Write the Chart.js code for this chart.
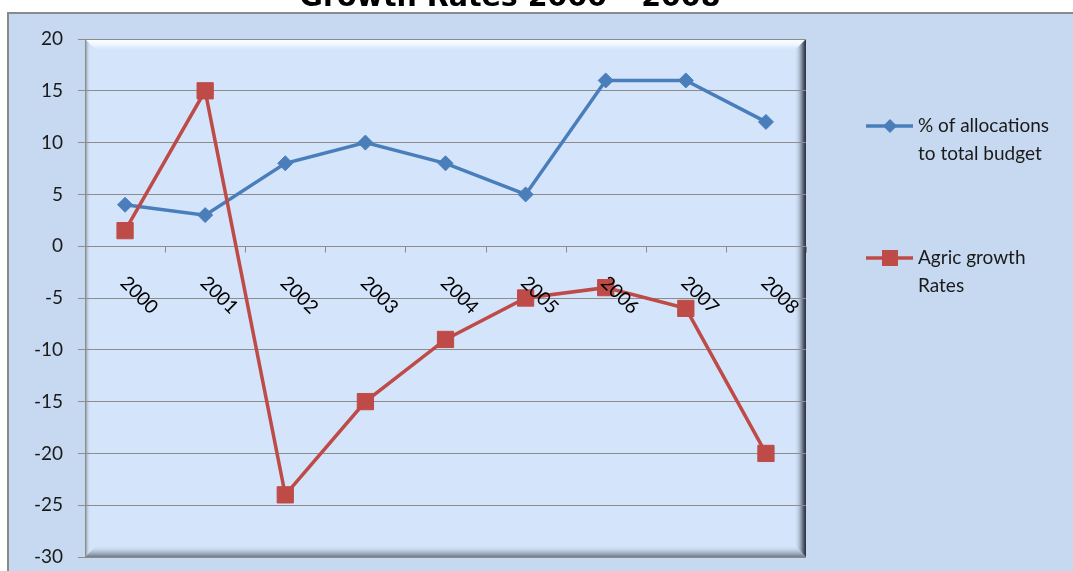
<!DOCTYPE html>
<html>
<head>
<meta charset="utf-8">
<title>Growth Rates 2000 – 2008</title>
<script src="https://cdn.jsdelivr.net/npm/chart.js@4/dist/chart.umd.min.js"></script>
<style>
  html, body { margin: 0; padding: 0; background: #fff; }
  canvas { display: block; }
</style>
</head>
<body>
<canvas id="growthChart" width="1073" height="571"></canvas>
<script>
"use strict"
// series data
const years = ["2000","2001","2002","2003","2004","2005","2006","2007","2008"];
const allocationShare = [4, 3, 8, 10, 8, 5, 16, 16, 12];        // % of allocations to total budget
const agricGrowth = [1.5, 15, -24, -15, -9, -5, -4, -6, -20];    // agric growth rates
const yMin = -30, yMax = 20, yStep = 5;

const titleText = "Growth Rates 2000 – 2008";
const legendLines = [["% of allocations", "to total budget"], ["Agric growth", "Rates"]];

const blue = "#4a7ebb";
const red = "#be4b48";
const gridGrey = "#8c8c8c";

Chart.defaults.font.family = "Lato";

// outer frame, plot fill and the bevelled edges of the plot area
const backdrop = {
  id: "backdrop",
  beforeDraw(chart) {
    const ctx = chart.ctx, a = chart.chartArea;
    const W = chart.width, H = chart.height;
    ctx.save();
    ctx.fillStyle = "#fff";
    ctx.fillRect(0, 0, W, H);
    ctx.fillStyle = "#c6d9f1";
    ctx.fillRect(8, 13, W, H);
    ctx.strokeStyle = "#8a8a8a";
    ctx.lineWidth = 2;
    ctx.beginPath();
    ctx.moveTo(8, H + 2); ctx.lineTo(8, 13); ctx.lineTo(W + 2, 13);
    ctx.stroke();

    const l = a.left, t = a.top, r = a.right, b = a.bottom, d = 12;
    ctx.fillStyle = "#d4e5fb";
    ctx.fillRect(l, t, r - l, b - t);

    function quad(pts, fill) {
      ctx.beginPath();
      ctx.moveTo(pts[0], pts[1]);
      for (let i = 2; i < pts.length; i += 2) ctx.lineTo(pts[i], pts[i + 1]);
      ctx.closePath();
      ctx.fillStyle = fill;
      ctx.fill();
    }
    // top highlight
    let g = ctx.createLinearGradient(0, t, 0, t + d);
    g.addColorStop(0, "rgba(255,255,255,1)");
    g.addColorStop(0.5, "rgba(245,250,255,0.8)");
    g.addColorStop(1, "rgba(212,229,251,0)");
    quad([l, t, r, t, r - d, t + d, l + d, t + d], g);
    // left edge
    g = ctx.createLinearGradient(l, 0, l + d, 0);
    g.addColorStop(0, "rgba(120,128,138,1)");
    g.addColorStop(0.25, "rgba(190,200,214,0.6)");
    g.addColorStop(0.5, "rgba(212,229,251,0)");
    quad([l, t, l + d, t + d, l + d, b - d, l, b], g);
    // bottom shade
    g = ctx.createLinearGradient(0, b - d, 0, b);
    g.addColorStop(0, "rgba(212,229,251,0)");
    g.addColorStop(0.6, "rgba(160,175,192,0.8)");
    g.addColorStop(1, "rgba(110,122,138,1)");
    quad([l, b, l + d, b - d, r - d, b - d, r, b], g);
    // right shade
    g = ctx.createLinearGradient(r - d, 0, r, 0);
    g.addColorStop(0, "rgba(212,229,251,0)");
    g.addColorStop(0.45, "rgba(165,178,195,0.8)");
    g.addColorStop(0.8, "rgba(80,90,106,1)");
    g.addColorStop(1, "rgba(40,46,58,1)");
    quad([r, t, r, b, r - d, b - d, r - d, t + d], g);
    ctx.restore();
  },
  beforeDatasetsDraw(chart) {
    // category tick marks hanging below the zero line
    const ctx = chart.ctx, x = chart.scales.x, y = chart.scales.y;
    const y0 = Math.round(y.getPixelForValue(0)) + 0.5;
    ctx.save();
    ctx.strokeStyle = gridGrey;
    ctx.lineWidth = 1;
    ctx.beginPath();
    for (let i = 0; i <= years.length; i++) {
      const px = Math.round(x.getPixelForValue(i - 0.5)) + 0.5;
      ctx.moveTo(px, y0); ctx.lineTo(px, y0 + 6);
    }
    ctx.stroke();
    ctx.restore();
  },
  afterDraw(chart) {
    const ctx = chart.ctx, x = chart.scales.x, y = chart.scales.y;
    const y0 = y.getPixelForValue(0);
    ctx.save();
    // slanted year labels under the zero line
    ctx.fillStyle = "#000";
    ctx.font = "19px Lato";
    ctx.textAlign = "center";
    ctx.textBaseline = "middle";
    years.forEach((yr, i) => {
      ctx.save();
      ctx.translate(x.getPixelForValue(i) + 14, y0 + 49);
      ctx.rotate(Math.PI / 4);
      ctx.fillText(yr, 0, 0);
      ctx.restore();
    });

    // title, partly above the top of the frame
    ctx.font = "bold 28.5px 'DejaVu Sans'";
    ctx.textBaseline = "alphabetic";
    ctx.fillText(titleText, 510, 6);

    // legend
    const entries = [
      {color: blue, style: "diamond", y: 126},
      {color: red, style: "square", y: 258}
    ];
    ctx.textAlign = "left";
    ctx.textBaseline = "middle";
    ctx.font = "19px Lato";
    entries.forEach((e, k) => {
      ctx.strokeStyle = e.color;
      ctx.lineWidth = 3.5;
      ctx.beginPath();
      ctx.moveTo(866, e.y); ctx.lineTo(913, e.y);
      ctx.stroke();
      ctx.fillStyle = e.color;
      ctx.beginPath();
      if (e.style === "diamond") {
        ctx.moveTo(890, e.y - 7); ctx.lineTo(897, e.y); ctx.lineTo(890, e.y + 7); ctx.lineTo(883, e.y);
      } else {
        ctx.rect(882, e.y - 8, 16, 16);
      }
      ctx.closePath();
      ctx.fill();
      ctx.fillStyle = "#1a1a1a";
      legendLines[k].forEach((txt, j) => ctx.fillText(txt, 918, e.y + j * 28));
    });
    ctx.restore();
  }
};

new Chart(document.getElementById("growthChart"), {
  type: "line",
  data: {
    labels: years,
    datasets: [
      {
        label: legendLines[0].join(" "),
        data: allocationShare,
        borderColor: blue,
        backgroundColor: blue,
        borderWidth: 3.5,
        pointStyle: "rectRot",
        pointRadius: 7.5,
        pointBorderWidth: 1,
        tension: 0,
        order: 1
      },
      {
        label: legendLines[1].join(" "),
        data: agricGrowth,
        borderColor: red,
        backgroundColor: red,
        borderWidth: 3.5,
        pointStyle: "rect",
        pointRadius: 11.5,
        pointBorderWidth: 1,
        tension: 0,
        order: 0
      }
    ]
  },
  options: {
    responsive: false,
    animation: false,
    devicePixelRatio: 1,
    layout: { padding: { left: 0, top: 39, right: 267, bottom: 14 } },
    plugins: {
      legend: { display: false },
      title: { display: false },
      tooltip: { enabled: false }
    },
    scales: {
      x: {
        type: "category",
        offset: true,
        display: false
      },
      y: {
        min: yMin,
        max: yMax,
        ticks: { stepSize: yStep, padding: 15, color: "#1a1a1a", font: { size: 19 } },
        grid: { color: gridGrey, lineWidth: 1, tickLength: 7 },
        border: { color: gridGrey, width: 1 },
        afterFit(scale) {
          scale.width = 85;
          // the end labels fit inside the layout padding
          scale.paddingTop = 0;
          scale.paddingBottom = 0;
        }
      }
    }
  },
  plugins: [backdrop]
});
</script>
</body>
</html>
